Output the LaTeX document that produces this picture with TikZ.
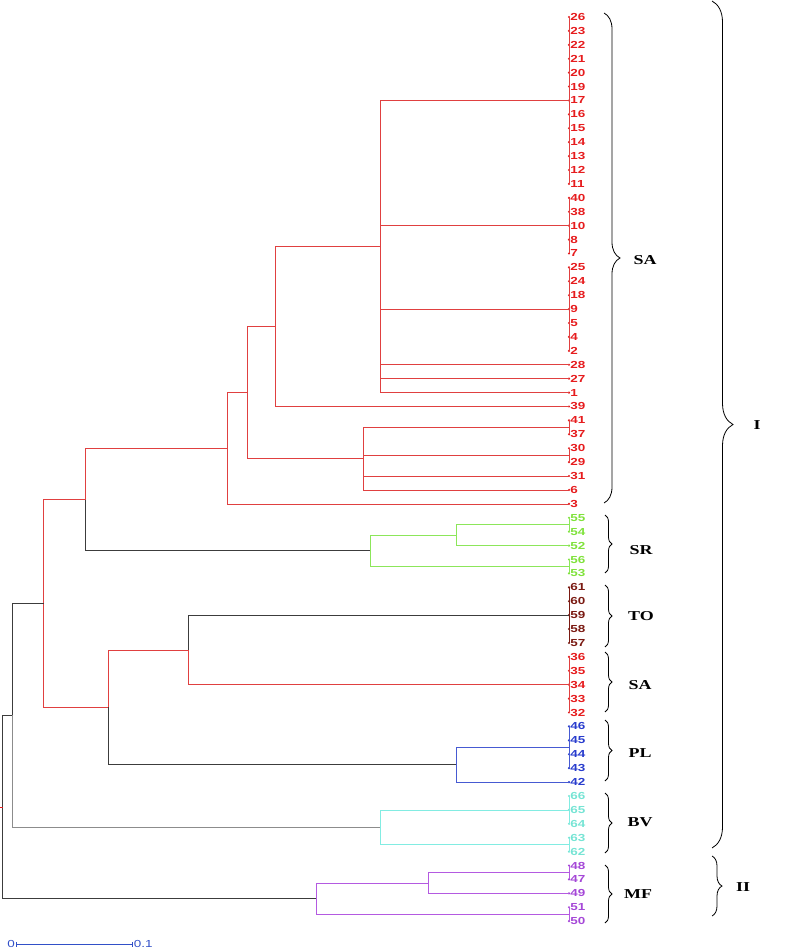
\documentclass[tikz,border=0pt]{standalone}
\usepackage{fontspec}
\setmainfont{Liberation Serif}
\setsansfont{Liberation Sans}
\usetikzlibrary{decorations.pathreplacing,calc}
\definecolor{cSA}{RGB}{230,28,30}
\definecolor{lSA}{RGB}{224,64,64}
\definecolor{cSR}{RGB}{128,226,60}
\definecolor{lSR}{RGB}{140,230,90}
\definecolor{cTO}{RGB}{122,26,18}
\definecolor{cPL}{RGB}{40,60,205}
\definecolor{lPL}{RGB}{70,90,210}
\definecolor{cBV}{RGB}{118,228,212}
\definecolor{lBV}{RGB}{130,236,226}
\definecolor{cMF}{RGB}{165,72,215}
\definecolor{lMF}{RGB}{180,90,225}
\definecolor{dk}{RGB}{60,60,60}
\definecolor{gy}{RGB}{140,140,140}
\definecolor{sc}{RGB}{50,80,200}
\newcommand{\wide}[1]{\scalebox{1.32}[1]{#1}}
\begin{document}
\begin{tikzpicture}[x=1pt,y=-1pt,
  br/.style={line width=0.7pt},
  leaflab/.style={anchor=west,inner sep=0pt,xshift=1.2pt,font=\sffamily\bfseries\fontsize{10.2}{12}\selectfont},
  grp/.style={font=\rmfamily\bfseries\fontsize{13.6}{16}\selectfont,inner sep=0pt},
  brc/.style={decorate,decoration={brace,amplitude=#1},line width=0.8pt,black},
  scl/.style={font=\sffamily\fontsize{10.2}{12}\selectfont,text=sc,inner sep=1pt}]
\useasboundingbox (0,0) rectangle (798,952);
% leaves
\foreach \lab/\i/\c in {26/0/cSA,23/1/cSA,22/2/cSA,21/3/cSA,20/4/cSA,19/5/cSA,17/6/cSA,16/7/cSA,15/8/cSA,14/9/cSA,13/10/cSA,12/11/cSA,11/12/cSA,40/13/cSA,38/14/cSA,10/15/cSA,8/16/cSA,7/17/cSA,25/18/cSA,24/19/cSA,18/20/cSA,9/21/cSA,5/22/cSA,4/23/cSA,2/24/cSA,28/25/cSA,27/26/cSA,1/27/cSA,39/28/cSA,41/29/cSA,37/30/cSA,30/31/cSA,29/32/cSA,31/33/cSA,6/34/cSA,3/35/cSA,
  55/36/cSR,54/37/cSR,52/38/cSR,56/39/cSR,53/40/cSR,
  61/41/cTO,60/42/cTO,59/43/cTO,58/44/cTO,57/45/cTO,
  36/46/cSA,35/47/cSA,34/48/cSA,33/49/cSA,32/50/cSA,
  46/51/cPL,45/52/cPL,44/53/cPL,43/54/cPL,42/55/cPL,
  66/56/cBV,65/57/cBV,64/58/cBV,63/59/cBV,62/60/cBV,
  48/61/cMF,47/62/cMF,49/63/cMF,51/64/cMF,50/65/cMF}{
  \coordinate (l\lab) at (569,{17+13.91*\i});
  \fill[\c] (l\lab) circle (1.2pt);
  \node[leaflab,text=\c] (t\lab) at (l\lab) {\wide{\lab}};
}
% clusters of identical leaves
\draw[br,lSA] (l26) -- (l11); \coordinate (c1) at ($(l26)!0.5!(l11)$);
\draw[br,lSA] (l40) -- (l7);  \coordinate (c2) at ($(l40)!0.5!(l7)$);
\draw[br,lSA] (l25) -- (l2);  \coordinate (c3) at ($(l25)!0.5!(l2)$);
\draw[br,lSA] (l41) -- (l37); \coordinate (c4) at ($(l41)!0.5!(l37)$);
\draw[br,lSA] (l30) -- (l29); \coordinate (c5) at ($(l30)!0.5!(l29)$);
\draw[br,lSR] (l55) -- (l54); \coordinate (c6) at ($(l55)!0.5!(l54)$);
\draw[br,lSR] (l56) -- (l53); \coordinate (c7) at ($(l56)!0.5!(l53)$);
\draw[br,cTO] (l61) -- (l57); \coordinate (cTOn) at ($(l61)!0.5!(l57)$);
\draw[br,lSA] (l36) -- (l32); \coordinate (cSAn) at ($(l36)!0.5!(l32)$);
\draw[br,lPL] (l46) -- (l43); \coordinate (cPLn) at ($(l46)!0.5!(l43)$);
\draw[br,lBV] (l66) -- (l64); \coordinate (cBV1) at ($(l66)!0.5!(l64)$);
\draw[br,lBV] (l63) -- (l62); \coordinate (cBV2) at ($(l63)!0.5!(l62)$);
\draw[br,lMF] (l48) -- (l47); \coordinate (cMF1) at ($(l48)!0.5!(l47)$);
\draw[br,lMF] (l51) -- (l50); \coordinate (cMF2) at ($(l51)!0.5!(l50)$);
% internal nodes
\coordinate (A) at (380,246.52);
\coordinate (B) at (275.7,326.50);
\coordinate (D) at (363.3,458.65);
\coordinate (C) at (247.3,392.57);
\coordinate (E) at (227.3,448.21);
\coordinate (SRs) at (456,535.15);
\coordinate (SR) at (370,550.80);
\coordinate (F) at (85.3,499.50);
\coordinate (J) at (188.3,649.90);
\coordinate (PLn) at (456,764.67);
\coordinate (H) at (108.3,707.29);
\coordinate (G) at (43.7,603.40);
\coordinate (BVn) at (380,827.26);
\coordinate (I) at (12.7,715.33);
\coordinate (MFs) at (428,882.90);
\coordinate (MFn) at (316,898.55);
\coordinate (K) at (2.7,806.94);
\coordinate (stub) at (0,806.94);
% connectors
\foreach \a/\b in {A/c1,A/c2,A/c3,A/l28,A/l27,A/l1,B/A,B/l39,D/c4,D/c5,D/l31,D/l6,C/B,C/D,E/C,E/l3,F/E,G/F,G/H,H/J,J/cSAn}
  \draw[br,lSA] (\a) |- (\b);
\foreach \a/\b in {SRs/c6,SRs/l52,SR/SRs,SR/c7}
  \draw[br,lSR] (\a) |- (\b);
\foreach \a/\b in {PLn/cPLn,PLn/l42}
  \draw[br,lPL] (\a) |- (\b);
\foreach \a/\b in {BVn/cBV1,BVn/cBV2}
  \draw[br,lBV] (\a) |- (\b);
\foreach \a/\b in {MFs/cMF1,MFs/l49,MFn/MFs,MFn/cMF2}
  \draw[br,lMF] (\a) |- (\b);
\foreach \a/\b in {F/SR,J/cTOn,H/PLn,I/G,K/I,K/MFn}
  \draw[br,dk] (\a) |- (\b);
\draw[br,gy] (I) |- (BVn);
\draw[br,cSA] (stub) -- (K);
% braces
\draw[brc=16] (604,13) -- (604,503);
\draw[brc=7] (605,515) -- (605,573);
\draw[brc=7] (605,585) -- (605,647);
\draw[brc=7] (605,652) -- (605,712);
\draw[brc=7] (605,720) -- (605,781);
\draw[brc=7] (605,793) -- (605,853);
\draw[brc=7] (605,865) -- (605,923);
\draw[brc=21] (712,1) -- (712,848);
\draw[brc=10] (712,856) -- (712,916);
\node[grp] (gSA1) at (645,260) {\wide{SA}};
\node[grp] (gSR) at (641,550) {\wide{SR}};
\node[grp] (gTO) at (641,616.5) {\wide{TO}};
\node[grp] (gSA2) at (640,685) {\wide{SA}};
\node[grp] (gPL) at (640,753) {\wide{PL}};
\node[grp] (gBV) at (640,822) {\wide{BV}};
\node[grp] (gMF) at (638,894) {\wide{MF}};
\node[grp] (gI) at (757,425) {\wide{I}};
\node[grp] (gII) at (743,886.7) {\wide{II}};
% scale bar
\coordinate (s0) at (16,944.3);
\coordinate (s1) at (132.7,944.3);
\draw[sc,line width=0.6pt] (s0) -- (s1);
\draw[sc,line width=0.6pt] ($(s0)+(0,-2.5)$) -- ($(s0)+(0,2.5)$);
\draw[sc,line width=0.6pt] ($(s1)+(0,-2.5)$) -- ($(s1)+(0,2.5)$);
\node[scl,anchor=east] (z0) at (s0) {\wide{0}};
\node[scl,anchor=west] (z1) at (s1) {\wide{0.1}};
\end{tikzpicture}
\end{document}
